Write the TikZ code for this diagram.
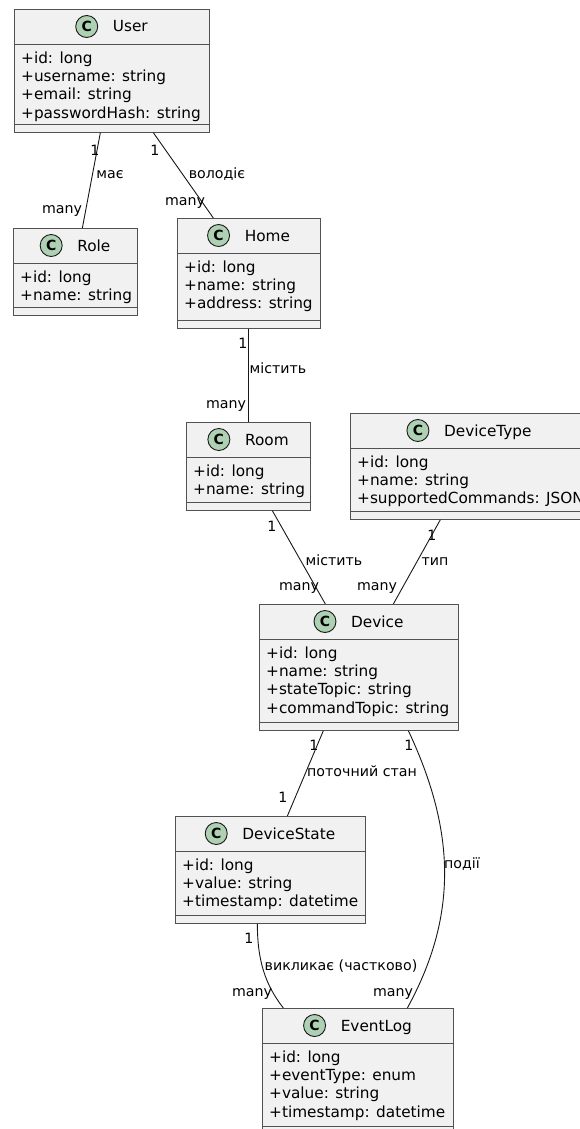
\documentclass[tikz,border=0pt]{standalone}
\usepackage{fontspec}
\setmainfont{DejaVu Sans}
\usetikzlibrary{calc}
\definecolor{boxfill}{HTML}{F1F1F1}
\definecolor{boxline}{HTML}{181818}
\definecolor{spotfill}{HTML}{ADD1B2}
\tikzset{
 classbox/.style={draw=boxline!75, fill=boxfill, line width=0.7pt, rectangle, inner sep=0pt, anchor=north west},
 divider/.style={draw=boxline!75, line width=0.7pt},
 titletext/.style={font=\fontsize{15.3}{18}\selectfont, inner sep=0pt, anchor=base},
 attrtext/.style={font=\fontsize{15.3}{18}\selectfont, inner sep=0pt, anchor=base west},
 spot/.style={circle, draw=boxline, fill=spotfill, line width=0.9pt, minimum size=22pt, inner sep=0pt, font=\bfseries\fontsize{14}{14}\selectfont},
 assoc/.style={draw=boxline, line width=0.9pt},
 lbl/.style={font=\fontsize{14.2}{16}\selectfont, inner sep=0pt, text height=10.5pt, text depth=3.5pt},
}
\newcommand\umlclass[7]{%
  \node[classbox, minimum width=#4pt, minimum height=#5pt] (#1) at (#2,#3) {};
  \draw[divider] ([yshift=-35pt]#1.north west) -- ([yshift=-35pt]#1.north east);
  \draw[divider] ([yshift=8pt]#1.south west) -- ([yshift=8pt]#1.south east);
  \node[titletext] (#1-title) at ([xshift=18.5pt, yshift=-23pt]#1.north) {#6};
  \node[spot] (#1-spot) at ([xshift=-26pt, yshift=5.5pt]#1-title.base west) {C};
  \foreach \a [count=\i] in {#7} {
    \node[attrtext] (#1-a\i) at ([xshift=7pt, yshift={-54.4pt-(\i-1)*18.2pt}]#1.north west) {\a};
  }
}
\begin{document}
\begin{tikzpicture}[x=1pt, y=-1pt]
\useasboundingbox (0,0) rectangle (580,1129);
\fill[white] (0,0) rectangle (580,1129);
\clip (0,0) rectangle (580,1129);

\umlclass{User}{14}{9}{195}{123}{User}{+id: long,+username: string,+email: string,+passwordHash: string}
\umlclass{Role}{13}{228}{124}{87}{Role}{+id: long,+name: string}
\umlclass{Home}{177}{218}{143}{110}{Home}{+id: long,+name: string,+address: string}
\umlclass{Room}{186}{422}{124}{88}{Room}{+id: long,+name: string}
\umlclass{DeviceType}{350}{413}{238}{106}{DeviceType}{+id: long,+name: string,+supportedCommands: JSON}
\umlclass{Device}{259}{604}{199}{126}{Device}{+id: long,+name: string,+stateTopic: string,+commandTopic: string}
\umlclass{DeviceState}{175}{816}{190}{107}{DeviceState}{+id: long,+value: string,+timestamp: datetime}
\umlclass{EventLog}{262}{1008}{191}{126}{EventLog}{+id: long,+eventType: enum,+value: string,+timestamp: datetime}

% connectors
\draw[assoc] ([xshift=-11.5pt]User.south) -- ([xshift=7pt]Role.north);
\draw[assoc] ([xshift=41.5pt]User.south) -- ([xshift=-35.5pt]Home.north);
\draw[assoc] ([xshift=-0.5pt]Home.south) -- (Room.north);
\draw[assoc] ([xshift=24pt]Room.south) -- ([xshift=-33.5pt]Device.north);
\draw[assoc] ([xshift=-29pt]DeviceType.south) -- ([xshift=34.5pt]Device.north);
\draw[assoc] ([xshift=-35.5pt]Device.south) -- ([xshift=17pt]DeviceState.north);
\draw[assoc] ([xshift=49.5pt]Device.south) .. controls +(47,100) and +(51,-93) .. ([xshift=49.5pt]EventLog.north);
\draw[assoc] ([xshift=-13pt]DeviceState.south) .. controls +(0,37) and +(-18,-23) .. ([xshift=-74.5pt]EventLog.north);

% labels
\node[lbl] (ur1) at (95,152) {1};
\node[lbl] (ur2) at (110,175) {має};
\node[lbl] (ur3) at (62,210) {many};
\node[lbl] (uh1) at (155,152) {1};
\node[lbl] (uh2) at (217,175) {володіє};
\node[lbl] (uh3) at (185,202) {many};
\node[lbl] (hr1) at (243,345) {1};
\node[lbl] (hr2) at (278,370) {містить};
\node[lbl] (hr3) at (226,405) {many};
\node[lbl] (rd1) at (272,528) {1};
\node[lbl] (rd2) at (334,562) {містить};
\node[lbl] (rd3) at (299,587) {many};
\node[lbl] (td1) at (432,537) {1};
\node[lbl] (td2) at (435,562) {тип};
\node[lbl] (td3) at (377,587) {many};
\node[lbl] (ds1) at (314,747) {1};
\node[lbl] (ds2) at (362,773) {поточний стан};
\node[lbl] (ds3) at (283,799) {1};
\node[lbl] (de1) at (409,747) {1};
\node[lbl] (de2) at (462,865) {події};
\node[lbl] (de3) at (393,993) {many};
\node[lbl] (se1) at (249,940) {1};
\node[lbl] (se2) at (341,967) {викликає (частково)};
\node[lbl] (se3) at (252,993) {many};
\end{tikzpicture}
\end{document}
